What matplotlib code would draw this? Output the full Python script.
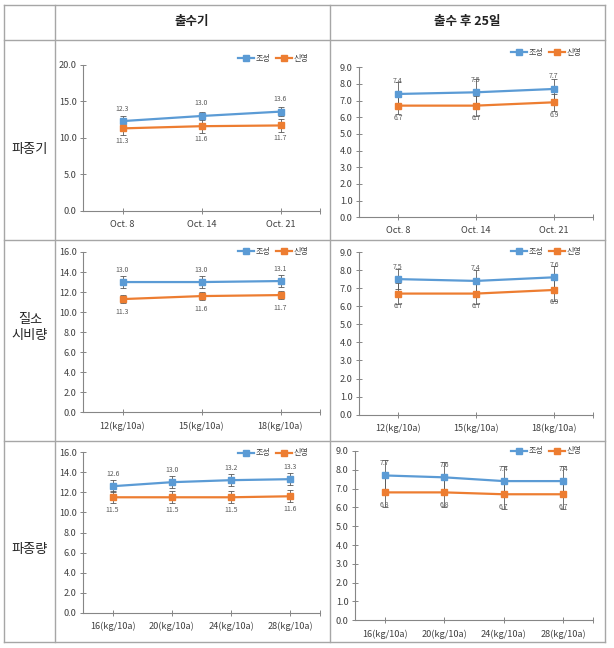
import matplotlib.pyplot as plt
from matplotlib.lines import Line2D
import numpy as np

plt.rcParams['font.family'] = ['Noto Sans CJK KR', 'DejaVu Sans']

W, H = 614, 648

# data
dates = ['Oct. 8', 'Oct. 14', 'Oct. 21']
n_rates = ['12(kg/10a)', '15(kg/10a)', '18(kg/10a)']
seed_rates = ['16(kg/10a)', '20(kg/10a)', '24(kg/10a)', '28(kg/10a)']

josung_head_date = [12.3, 13.0, 13.6]
sinyoung_head_date = [11.3, 11.6, 11.7]
josung_head_date_err = [0.7, 0.5, 0.6]
sinyoung_head_date_err = [0.9, 1.0, 0.9]

josung_25_date = [7.4, 7.5, 7.7]
sinyoung_25_date = [6.7, 6.7, 6.9]
josung_25_date_err = [0.7, 0.8, 0.6]
sinyoung_25_date_err = [0.5, 0.6, 0.5]

josung_head_n = [13.0, 13.0, 13.1]
sinyoung_head_n = [11.3, 11.6, 11.7]
josung_head_n_err = [0.6, 0.6, 0.6]
sinyoung_head_n_err = [0.4, 0.4, 0.4]

josung_25_n = [7.5, 7.4, 7.6]
sinyoung_25_n = [6.7, 6.7, 6.9]
josung_25_n_err = [0.55, 0.6, 0.6]
sinyoung_25_n_err = [0.6, 0.6, 0.6]

josung_head_seed = [12.6, 13.0, 13.2, 13.3]
sinyoung_head_seed = [11.5, 11.5, 11.5, 11.6]
josung_head_seed_err = [0.6, 0.6, 0.6, 0.6]
sinyoung_head_seed_err = [0.6, 0.6, 0.6, 0.6]

josung_25_seed = [7.7, 7.6, 7.4, 7.4]
sinyoung_25_seed = [6.8, 6.8, 6.7, 6.7]
josung_25_seed_err = [0.8, 0.8, 0.8, 0.8]
sinyoung_25_seed_err = [0.8, 0.8, 0.8, 0.8]

col_titles = ['출수기', '출수 후 25일']
row_titles = ['파종기', '질소\n시비량', '파종량']
series_names = ['조성', '신영']

BLUE = '#5B9BD5'
ORANGE = '#ED7D31'
GRID_GRAY = '#A6A6A6'
TXT = '#404040'


def fx(x):
    return x / W


def fy(y):
    return 1 - y / H


fig = plt.figure(figsize=(W / 100, H / 100), dpi=100)
fig.patch.set_facecolor('white')

# table lines
for y in [5, 40, 240, 441, 642]:
    fig.add_artist(Line2D([fx(4), fx(605)], [fy(y), fy(y)], color=GRID_GRAY, lw=1.0))
for x in [4, 55, 330, 605]:
    fig.add_artist(Line2D([fx(x), fx(x)], [fy(5), fy(642)], color=GRID_GRAY, lw=1.0))

fig.text(fx(192), fy(22), col_titles[0], ha='center', va='center', fontsize=9, fontweight='bold', color='#222222')
fig.text(fx(467), fy(22), col_titles[1], ha='center', va='center', fontsize=9, fontweight='bold', color='#222222')
for y, t in zip([150, 328, 550], row_titles):
    fig.text(fx(30), fy(y), t, ha='center', va='center', fontsize=9.5, color='#222222', linespacing=1.3)


def draw_chart(box, cats, s1, s2, e1, e2, ymax, ystep, legend_y):
    left, right, top, bottom = box
    ax = fig.add_axes([fx(left), fy(bottom), fx(right - left), (bottom - top) / H])
    n = len(cats)
    x = np.arange(n)
    for vals, errs, color, name, off in [(s1, e1, BLUE, series_names[0], 9),
                                         (s2, e2, ORANGE, series_names[1], -9)]:
        ax.errorbar(x, vals, yerr=errs, fmt='none', ecolor='#595959', elinewidth=0.6,
                    capsize=2.2, capthick=0.6, zorder=2)
        ax.plot(x, vals, color=color, lw=1.6, marker='s', markersize=4, label=name, zorder=3)
        for xi, v in zip(x, vals):
            ax.annotate(f'{v:.1f}', (xi, v), xytext=(0, off), textcoords='offset points',
                        ha='center', va='center', fontsize=5, color='#595959', zorder=4)
    ax.set_xlim(-0.5, n - 0.5)
    ax.set_ylim(0, ymax)
    ax.set_yticks(np.arange(0, ymax + 0.01, ystep))
    ax.set_yticklabels([f'{v:.1f}' for v in np.arange(0, ymax + 0.01, ystep)])
    ax.set_xticks(list(x) + [n - 0.5])
    ax.set_xticklabels(cats + [''])
    for s in ['top', 'right']:
        ax.spines[s].set_visible(False)
    for s in ['left', 'bottom']:
        ax.spines[s].set_color('#868686')
        ax.spines[s].set_linewidth(0.8)
    ax.tick_params(axis='both', direction='inout', length=5, width=0.7, color='#868686',
                   labelsize=6.6, labelcolor=TXT)
    ax.tick_params(axis='x', pad=4)
    ax.tick_params(axis='y', pad=2)
    ax.patch.set_alpha(0)
    ax.legend(loc='center right', bbox_to_anchor=(fx(right - 8), fy(legend_y)),
              bbox_transform=fig.transFigure, ncol=2, frameon=False, fontsize=5.8,
              handlelength=2.0, handletextpad=0.2, columnspacing=0.6, borderpad=0,
              labelcolor=TXT)
    return ax


draw_chart((83, 320, 65, 210.7), dates, josung_head_date, sinyoung_head_date,
           josung_head_date_err, sinyoung_head_date_err, 20, 5, 58)
draw_chart((359, 593, 67.3, 217.3), dates, josung_25_date, sinyoung_25_date,
           josung_25_date_err, sinyoung_25_date_err, 9, 1, 52)
draw_chart((83, 320, 252, 412.3), n_rates, josung_head_n, sinyoung_head_n,
           josung_head_n_err, sinyoung_head_n_err, 16, 2, 251)
draw_chart((359, 593, 252, 414.7), n_rates, josung_25_n, sinyoung_25_n,
           josung_25_n_err, sinyoung_25_n_err, 9, 1, 251)
draw_chart((83, 320, 452, 613), seed_rates, josung_head_seed, sinyoung_head_seed,
           josung_head_seed_err, sinyoung_head_seed_err, 16, 2, 453)
draw_chart((355, 593, 451, 620.3), seed_rates, josung_25_seed, sinyoung_25_seed,
           josung_25_seed_err, sinyoung_25_seed_err, 9, 1, 451)

plt.savefig('out.png', dpi=100)
plt.close()
